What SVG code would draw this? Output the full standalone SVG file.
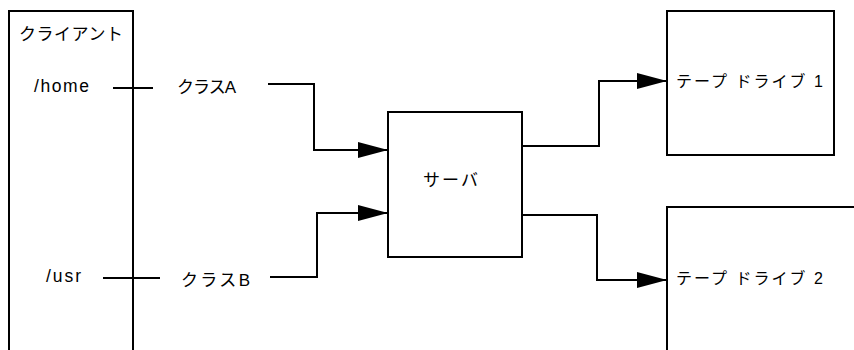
<svg xmlns="http://www.w3.org/2000/svg" width="854" height="350" viewBox="0 0 854 350">
<style>
.box{fill:none;stroke:#000;stroke-width:2}
.ln{fill:none;stroke:#000;stroke-width:2}
.t{font-family:"Liberation Sans","Noto Sans CJK JP",sans-serif;font-size:16px;fill:#000}
.l{font-size:17.5px}
.m{font-size:17px}
</style>
<defs>
<marker id="arr" viewBox="0 0 30 16" refX="30" refY="8" markerWidth="30" markerHeight="16" markerUnits="userSpaceOnUse" orient="auto">
<path d="M0,0 L30,8 L0,16 Z" fill="#000"/>
</marker>
</defs>
<rect width="854" height="350" fill="#fff"/>
<g id="client">
<path class="box" d="M9,350 V11 H133 V350"/>
<text class="t m" x="19" y="40" textLength="104">クライアント</text>
<text class="t l" x="34" y="92" textLength="55">/home</text>
<text class="t l" x="46" y="282" textLength="35">/usr</text>
</g>
<g id="classA"><text class="t m" x="177" y="93" textLength="59">クラスA</text></g>
<g id="classB"><text class="t m" x="181" y="286" textLength="69">クラスB</text></g>
<g id="server">
<rect class="box" x="388" y="112" width="134" height="145"/>
<text class="t m" x="423" y="186" textLength="55">サーバ</text>
</g>
<g id="tape1">
<rect class="box" x="667" y="11" width="167" height="144"/>
<text class="t" x="676" y="87" textLength="147">テープ ドライブ 1</text>
</g>
<g id="tape2">
<path class="box" d="M667,350 V207 H854"/>
<text class="t" x="676" y="284" textLength="147">テープ ドライブ 2</text>
</g>
<g id="connectors">
<path class="ln" d="M113,88 H153"/>
<path class="ln" d="M103,278 H160"/>
<path class="ln" d="M268,84 H314 V150 H388" marker-end="url(#arr)"/>
<path class="ln" d="M270,277 H317 V213 H388" marker-end="url(#arr)"/>
<path class="ln" d="M523,146 H599 V81 H667" marker-end="url(#arr)"/>
<path class="ln" d="M523,215 H597 V280 H667" marker-end="url(#arr)"/>
</g>
</svg>
